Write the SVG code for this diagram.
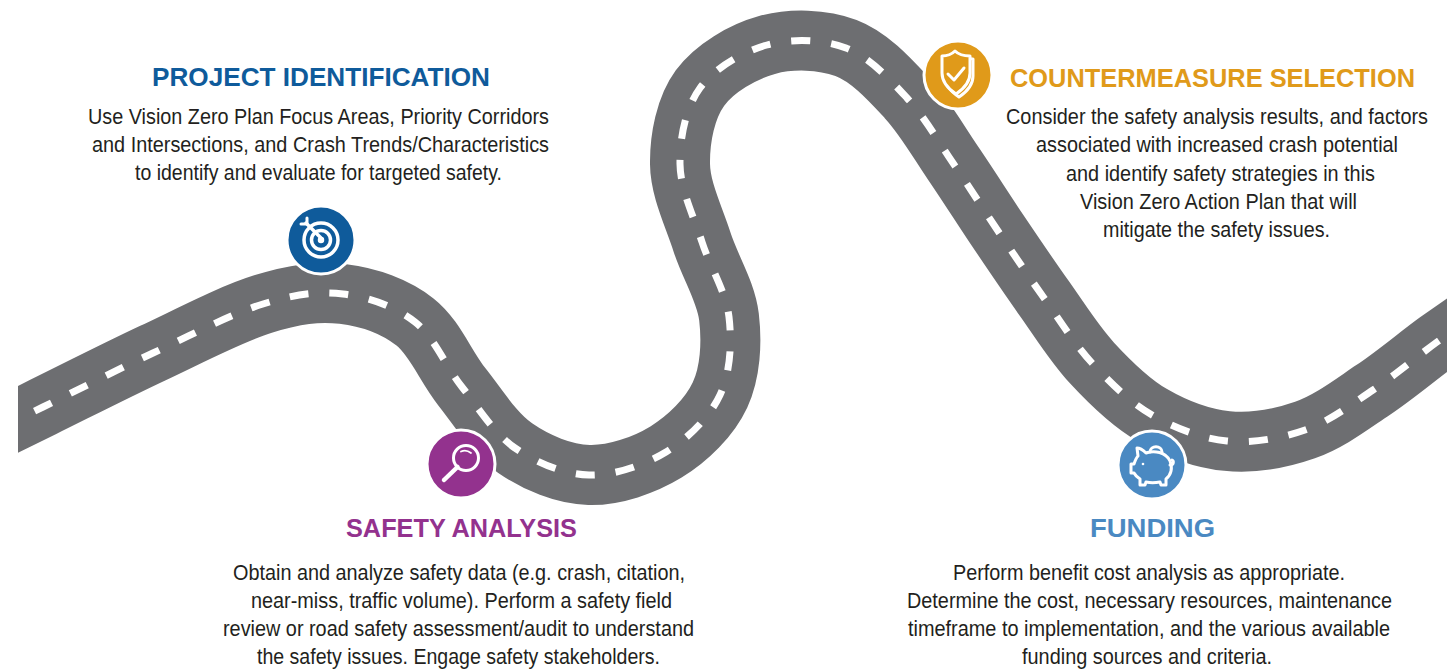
<svg xmlns="http://www.w3.org/2000/svg" xmlns:xlink="http://www.w3.org/1999/xlink" width="1455" height="671" viewBox="0 0 1455 671">
  <style>
    .title { font-family: "Liberation Sans", Arial, sans-serif; font-weight: bold; font-size: 26px; text-anchor: middle; }
    .body { font-family: "Liberation Sans", Arial, sans-serif; font-size: 22px; fill: #231f20; text-anchor: middle; }
    .road { fill: none; stroke: #6d6e71; stroke-width: 60; }
    .lane { fill: none; stroke: #ffffff; stroke-width: 7; stroke-dasharray: 19 21; }
    .badge { stroke: #ffffff; stroke-width: 3; }
    .glyph { fill: none; stroke: #ffffff; stroke-width: 3; stroke-linecap: round; stroke-linejoin: round; }
  </style>
  <defs>
    <clipPath id="roadClip">
      <rect x="18" y="0" width="1429" height="671"/>
    </clipPath>
    <path id="roadLine" d="M -30 443 L 43 407
      C 73.5 392 116.3 370.2 153 353
      C 189.7 335.8 231.3 313.8 263 304
      C 294.7 294.2 317.7 291 343 294
      C 368.3 297 395.2 306.5 415 322
      C 434.8 337.5 445.3 366 462 387
      C 478.7 408 493.8 433.3 515 448
      C 536.2 462.7 563.8 474.3 589 475
      C 614.2 475.7 644.2 465.3 666 452
      C 687.8 438.7 709.5 417.5 720 395
      C 730.5 372.5 732 342.5 729 317
      C 726 291.5 710.2 267.5 702 242
      C 693.8 216.5 680.3 189.7 680 164
      C 679.7 138.3 685.5 107.8 700 88
      C 714.5 68.2 742.7 51.7 767 45
      C 791.3 38.3 822.7 39.2 846 48
      C 869.3 56.8 889.2 78.8 907 98
      C 924.8 117.2 937.8 140.8 953 163
      C 968.2 185.2 982.8 208.5 998 231
      C 1013.2 253.5 1028.3 276 1044 298
      C 1059.7 320 1074 343.5 1092 363
      C 1110 382.5 1129.5 402 1152 415
      C 1174.5 428 1201.5 438.5 1227 441
      C 1252.5 443.5 1280.7 438.5 1305 430
      C 1329.3 421.5 1351 404.7 1373 390
      C 1395 375.3 1417.5 356.2 1437 342
      L 1490 305"/>
  </defs>

  <rect width="1455" height="671" fill="#ffffff"/>

  <!-- winding road with dashed centre line -->
  <g id="connectors" clip-path="url(#roadClip)">
    <use xlink:href="#roadLine" class="road"/>
    <use xlink:href="#roadLine" class="lane" stroke-dashoffset="8"/>
  </g>

  <!-- Step: project identification -->
  <g id="project-identification">
    <circle class="badge" cx="321" cy="240" r="34" fill="#0f5b9b"/>
    <g class="glyph" transform="translate(321 240)">
      <circle cx="0" cy="0" r="17" stroke-width="3.5"/>
      <circle cx="0" cy="0" r="9.5" stroke-width="3.5"/>
      <circle cx="0" cy="0" r="2.5" fill="#ffffff" stroke-width="1.5"/>
      <path d="M 1 -1 L -15 -17" stroke-width="3.5"/>
      <path d="M -20 -16 L -14 -16 L -14 -22" stroke-width="3"/>
    </g>
    <text class="title" x="321" y="86" fill="#0f5b9b" textLength="338" lengthAdjust="spacingAndGlyphs">PROJECT IDENTIFICATION</text>
    <text class="body" x="318.5" y="124" textLength="461" lengthAdjust="spacingAndGlyphs">Use Vision Zero Plan Focus Areas, Priority Corridors</text>
    <text class="body" x="320.5" y="152" textLength="457" lengthAdjust="spacingAndGlyphs">and Intersections, and Crash Trends/Characteristics</text>
    <text class="body" x="318.5" y="180" textLength="367" lengthAdjust="spacingAndGlyphs">to identify and evaluate for targeted safety.</text>
  </g>

  <!-- Step: safety analysis -->
  <g id="safety-analysis">
    <circle class="badge" cx="461" cy="464" r="34" fill="#93328e"/>
    <g class="glyph" transform="translate(461 464)">
      <circle cx="5" cy="-6" r="12.5" stroke-width="3"/>
      <path d="M -3.5 3 L -17 16" stroke-width="4.5"/>
      <path d="M 0 -12.5 Q 5 -15 10 -11" stroke-width="1.8"/>
    </g>
    <text class="title" x="461.5" y="537" fill="#93328e" textLength="231" lengthAdjust="spacingAndGlyphs">SAFETY ANALYSIS</text>
    <text class="body" x="459" y="580" textLength="452" lengthAdjust="spacingAndGlyphs">Obtain and analyze safety data (e.g. crash, citation,</text>
    <text class="body" x="461.5" y="608" textLength="421" lengthAdjust="spacingAndGlyphs">near-miss, traffic volume). Perform a safety field</text>
    <text class="body" x="458.5" y="636" textLength="471" lengthAdjust="spacingAndGlyphs">review or road safety assessment/audit to understand</text>
    <text class="body" x="458.5" y="664" textLength="403" lengthAdjust="spacingAndGlyphs">the safety issues. Engage safety stakeholders.</text>
  </g>

  <!-- Step: countermeasure selection -->
  <g id="countermeasure-selection">
    <circle class="badge" cx="958" cy="75" r="34" fill="#e09a1a"/>
    <g class="glyph" transform="translate(958 75)" stroke-width="2.2">
      <path d="M 0 -21 C 4 -17 10 -16 15 -16 L 15 1 C 15 12 7 18 1 22 C -5 18 -13 12 -13 1 L -13 -16 C -8 -16 -4 -17 0 -21 Z" fill="none"/>
      <path d="M -3 -24 C 1 -20 7 -19 12 -19 L 12 -2 C 12 9 4 15 -2 19 C -8 15 -16 9 -16 -2 L -16 -19 C -11 -19 -7 -20 -3 -24 Z" fill="#e09a1a"/>
      <path d="M -10 -1 L -4 5 L 6 -7"/>
    </g>
    <text class="title" x="1212.5" y="87" fill="#e09a1a" textLength="405" lengthAdjust="spacingAndGlyphs">COUNTERMEASURE SELECTION</text>
    <text class="body" x="1217" y="124" font-size="21" textLength="422" lengthAdjust="spacingAndGlyphs">Consider the safety analysis results, and factors</text>
    <text class="body" x="1217" y="152" textLength="362" lengthAdjust="spacingAndGlyphs">associated with increased crash potential</text>
    <text class="body" x="1220.5" y="181" textLength="309" lengthAdjust="spacingAndGlyphs">and identify safety strategies in this</text>
    <text class="body" x="1218.5" y="209" textLength="277" lengthAdjust="spacingAndGlyphs">Vision Zero Action Plan that will</text>
    <text class="body" x="1216.5" y="237" textLength="227" lengthAdjust="spacingAndGlyphs">mitigate the safety issues.</text>
  </g>

  <!-- Step: funding -->
  <g id="funding">
    <circle class="badge" cx="1152" cy="465" r="34" fill="#4a89c2"/>
    <g class="glyph" transform="translate(1152 465)" stroke-width="2.2">
      <!-- coin slot -->
      <path d="M -2 -13 C -2 -20 10 -20 10 -13"/>
      <!-- piggy body -->
      <path d="M -14 -9 L -15 -17 C -11 -17 -8 -14 -6 -12 C 2 -15 14 -13 18 -4 C 21 3 19 10 14 14 L 14 20 L 9 20 L 8 17 C 3 18 -2 18 -6 17 L -7 20 L -12 20 L -12 14 C -15 12 -17 10 -18 8 L -21 8 L -21 -1 L -18 -1 C -17 -4 -16 -7 -14 -9 Z"/>
      <circle cx="-9" cy="-1" r="1.3" fill="#ffffff" stroke="none"/>
      <path d="M 18 0 C 22 0 22 -4 20 -5"/>
    </g>
    <text class="title" x="1152.5" y="537" fill="#4a89c2" textLength="125" lengthAdjust="spacingAndGlyphs">FUNDING</text>
    <text class="body" x="1149" y="580" textLength="392" lengthAdjust="spacingAndGlyphs">Perform benefit cost analysis as appropriate.</text>
    <text class="body" x="1149.5" y="608" textLength="485" lengthAdjust="spacingAndGlyphs">Determine the cost, necessary resources, maintenance</text>
    <text class="body" x="1149" y="636" textLength="482" lengthAdjust="spacingAndGlyphs">timeframe to implementation, and the various available</text>
    <text class="body" x="1147" y="664" textLength="250" lengthAdjust="spacingAndGlyphs">funding sources and criteria.</text>
  </g>
</svg>
